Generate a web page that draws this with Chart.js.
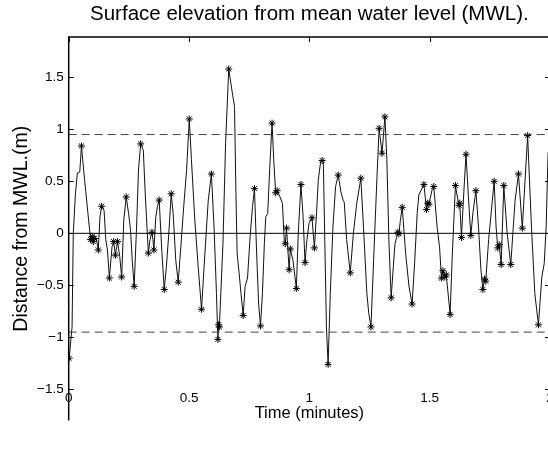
<!DOCTYPE html>
<html>
<head>
<meta charset="utf-8">
<title>Surface elevation</title>
<script src="https://cdn.jsdelivr.net/npm/chart.js@4.4.1/dist/chart.umd.min.js"></script>
<style>
  html, body { margin: 0; padding: 0; background: #fff; overflow: hidden; }
  #wrap { width: 556px; height: 457px; }
</style>
</head>
<body>
<div id="wrap"><canvas id="surfaceChart"></canvas></div>
<script>
// time axis (minutes) and surface elevation (m)
const timeMin = [
  0.002, 0.014, 0.019, 0.028, 0.036, 0.046, 0.053, 0.062, 0.071, 0.080,
  0.091, 0.098, 0.102, 0.108, 0.115, 0.123, 0.130, 0.137, 0.147, 0.154,
  0.161, 0.169, 0.180, 0.187, 0.194, 0.203, 0.212, 0.220, 0.229, 0.239,
  0.249, 0.257, 0.264, 0.272, 0.282, 0.290, 0.299, 0.310, 0.318, 0.331,
  0.338, 0.346, 0.350, 0.354, 0.362, 0.369, 0.376, 0.386, 0.397, 0.406,
  0.416, 0.426, 0.434, 0.445, 0.455, 0.466, 0.478, 0.490, 0.501, 0.510,
  0.524, 0.538, 0.552, 0.566, 0.580, 0.593, 0.604, 0.614, 0.620, 0.623,
  0.626, 0.641, 0.652, 0.665, 0.680, 0.689, 0.695, 0.700, 0.708, 0.716,
  0.725, 0.733, 0.743, 0.754, 0.764, 0.772, 0.780, 0.789, 0.797, 0.805,
  0.813, 0.819, 0.827, 0.835, 0.845, 0.852, 0.860, 0.866, 0.878, 0.888,
  0.896, 0.900, 0.905, 0.910, 0.916, 0.921, 0.932, 0.946, 0.954, 0.965,
  0.974, 0.982, 0.990, 0.999, 1.011, 1.021, 1.030, 1.037, 1.047, 1.053,
  1.058, 1.063, 1.071, 1.078, 1.087, 1.098, 1.109, 1.120, 1.131, 1.140,
  1.145, 1.155, 1.170, 1.183, 1.197, 1.214, 1.225, 1.239, 1.247, 1.256,
  1.267, 1.281, 1.290, 1.302, 1.314, 1.322, 1.331, 1.340, 1.349, 1.356,
  1.368, 1.372, 1.378, 1.386, 1.400, 1.414, 1.427, 1.438, 1.448, 1.455,
  1.476, 1.487, 1.492, 1.497, 1.510, 1.517, 1.531, 1.541, 1.549, 1.555,
  1.563, 1.569, 1.585, 1.593, 1.607, 1.619, 1.622, 1.625, 1.632, 1.642,
  1.651, 1.661, 1.671, 1.680, 1.692, 1.703, 1.713, 1.721, 1.728, 1.733,
  1.745, 1.768, 1.776, 1.783, 1.789, 1.797, 1.808, 1.822, 1.837, 1.855,
  1.869, 1.885, 1.907, 1.923, 1.937, 1.952, 1.966, 1.976, 1.984, 1.992,
  1.997
];
const elevation = [
  -1.20, -0.90, 0.00, 0.38, 0.58, 0.59, 0.84, 0.61, 0.40, 0.19,
  -0.06, -0.03, -0.08, -0.05, -0.05, -0.16, 0.16, 0.26, 0.22, -0.06,
  -0.16, -0.43, -0.13, -0.08, -0.21, -0.08, -0.22, -0.42, 0.13, 0.35,
  0.19, 0.03, -0.26, -0.51, 0.06, 0.61, 0.86, 0.80, 0.38, -0.19,
  -0.06, 0.01, -0.06, -0.16, 0.16, 0.26, 0.32, -0.13, -0.54, -0.32,
  0.00, 0.38, 0.19, -0.26, -0.47, -0.13, 0.26, 0.61, 1.10, 0.71,
  0.13, -0.32, -0.73, -0.19, 0.32, 0.57, 0.06, -0.58, -1.02, -0.88,
  -0.90, -0.10, 0.87, 1.58, 1.35, 1.22, 0.38, -0.19, -0.38, -0.58,
  -0.79, -0.51, -0.43, -0.03, 0.26, 0.43, -0.13, -0.67, -0.89, -0.58,
  -0.10, 0.16, 0.19, 0.61, 1.06, 0.71, 0.39, 0.41, 0.35, 0.29,
  -0.08, -0.10, 0.05, -0.13, -0.35, -0.15, -0.26, -0.53, 0.00, 0.47,
  0.16, -0.28, -0.06, 0.10, 0.15, -0.14, 0.20, 0.51, 0.69, 0.70,
  0.69, 0.07, -0.90, -1.26, -0.58, 0.06, 0.45, 0.56, 0.40, 0.32,
  0.30, -0.06, -0.38, 0.00, 0.29, 0.53, 0.06, -0.58, -0.77, -0.90,
  -0.26, 0.54, 1.01, 0.77, 1.12, 0.71, -0.10, -0.62, -0.32, -0.10,
  0.01, -0.005, 0.12, 0.25, -0.19, -0.51, -0.68, -0.26, 0.19, 0.37,
  0.47, 0.23, 0.29, 0.28, 0.42, 0.45, 0.06, -0.13, -0.43, -0.36,
  -0.42, -0.40, -0.78, -0.26, 0.46, 0.30, 0.27, 0.29, -0.04, 0.40,
  0.76, 0.35, -0.02, 0.20, 0.41, 0.06, -0.35, -0.54, -0.44, -0.46,
  -0.06, 0.50, 0.06, -0.14, -0.11, -0.30, 0.46, 0.00, -0.30, 0.32,
  0.57, 0.05, 0.94, 0.06, -0.58, -0.88, -0.42, -0.29, 0.06, 0.77,
  0.82
];
const mwlLevel = 0;
const sigLevel = 0.95;
const xTicks = [0, 0.5, 1, 1.5, 2];
const yTicks = [-1.5, -1, -0.5, 0, 0.5, 1, 1.5];
const xRange = [0, 2];
const yRange = [-1.8, 1.888];

const FONT = "'Liberation Sans', Arial, Helvetica, sans-serif";
const TICK_FONT_SIZE = 13.5;

// star marker on every crest and trough of the record
const isExtreme = (i) => {
  if (i === 0) return true;
  if (i === elevation.length - 1) return false;
  const a = elevation[i - 1], b = elevation[i], c = elevation[i + 1];
  return (b > a && b >= c) || (b < a && b <= c);
};

const fmtTick = (v) => (v < 0 ? "\u2212" + Math.abs(v) : String(v));

// inward tick marks, the axes box and the time labels, which sit
// inside the lower part of the box in the original figure
const frameTicks = {
  id: "frameTicks",
  afterDraw(chart) {
    const { ctx, chartArea: a, scales } = chart;
    const len = 5;
    ctx.save();
    ctx.strokeStyle = "#000";
    ctx.lineWidth = 1;
    ctx.beginPath();
    xTicks.forEach((v) => {
      const px = Math.round(scales.x.getPixelForValue(v)) + 0.5;
      ctx.moveTo(px, a.top); ctx.lineTo(px, a.top + len);
    });
    yTicks.forEach((v) => {
      const py = Math.round(scales.y.getPixelForValue(v)) + 0.5;
      ctx.moveTo(a.left, py); ctx.lineTo(a.left + len, py);
      ctx.moveTo(a.right, py); ctx.lineTo(a.right - len, py);
    });
    ctx.stroke();
    ctx.lineWidth = 1.5;
    ctx.beginPath();
    ctx.moveTo(a.left, a.bottom);
    ctx.lineTo(a.left, a.top);
    ctx.lineTo(a.right, a.top);
    ctx.lineTo(a.right, a.bottom);
    ctx.stroke();

    ctx.fillStyle = "#000";
    ctx.font = TICK_FONT_SIZE + "px " + FONT;
    ctx.textAlign = "center";
    ctx.textBaseline = "middle";
    const labelY = a.bottom - 22.5;
    xTicks.forEach((v) => {
      ctx.fillText(fmtTick(v), scales.x.getPixelForValue(v), labelY);
    });
    ctx.restore();
  },
};

const ctx = document.getElementById("surfaceChart").getContext("2d");
new Chart(ctx, {
  type: "line",
  data: {
    datasets: [
      {
        data: xRange.map((x) => ({ x, y: mwlLevel })),
        borderColor: "#000",
        borderWidth: 1,
        pointRadius: 0,
      },
      {
        data: xRange.map((x) => ({ x, y: sigLevel })),
        borderColor: "#444",
        borderWidth: 1,
        borderDash: [8, 5],
        pointRadius: 0,
      },
      {
        data: xRange.map((x) => ({ x, y: -sigLevel })),
        borderColor: "#444",
        borderWidth: 1,
        borderDash: [8, 5],
        pointRadius: 0,
      },
      {
        data: timeMin.map((t, i) => ({ x: t, y: elevation[i] })),
        borderColor: "#111",
        borderWidth: 1,
        tension: 0,
        pointStyle: "star",
        pointRadius: (c) => (isExtreme(c.dataIndex) ? 3.5 : 0),
        pointBorderColor: "#000",
        pointBorderWidth: 1,
        pointBackgroundColor: "#000",
      },
    ],
  },
  options: {
    responsive: true,
    maintainAspectRatio: false,
    devicePixelRatio: 1,
    animation: false,
    events: [],
    layout: { padding: { left: 0, right: 6, top: 0, bottom: 0 } },
    plugins: {
      legend: { display: false },
      tooltip: { enabled: false },
      title: {
        display: true,
        fullSize: false,
        text: "Surface elevation from mean water level (MWL).",
        color: "#000",
        font: { family: FONT, size: 20.5, weight: "normal" },
        padding: { top: 2, bottom: 10.4 },
      },
    },
    scales: {
      x: {
        type: "linear",
        min: xRange[0],
        max: xRange[1],
        afterBuildTicks: (s) => { s.ticks = xTicks.map((value) => ({ value })); },
        afterFit: (s) => { s.height = 36.5; },
        grid: { display: false, drawTicks: false },
        border: { display: false },
        ticks: { display: false },
        title: {
          display: true,
          text: "Time (minutes)",
          color: "#000",
          font: { family: FONT, size: 16.5 },
          padding: { top: 0, bottom: 34 },
        },
      },
      y: {
        type: "linear",
        min: yRange[0],
        max: yRange[1],
        afterBuildTicks: (s) => { s.ticks = yTicks.map((value) => ({ value })); },
        afterFit: (s) => { s.width = 68.7; },
        grid: { display: false, drawTicks: false },
        border: { display: false },
        ticks: {
          color: "#000",
          padding: 5,
          font: { family: FONT, size: TICK_FONT_SIZE },
          callback: fmtTick,
        },
        title: {
          display: true,
          text: "Distance from MWL.(m)",
          color: "#000",
          font: { family: FONT, size: 19.5 },
          padding: { top: 10, bottom: 0 },
        },
      },
    },
  },
  plugins: [frameTicks],
});
</script>
</body>
</html>
